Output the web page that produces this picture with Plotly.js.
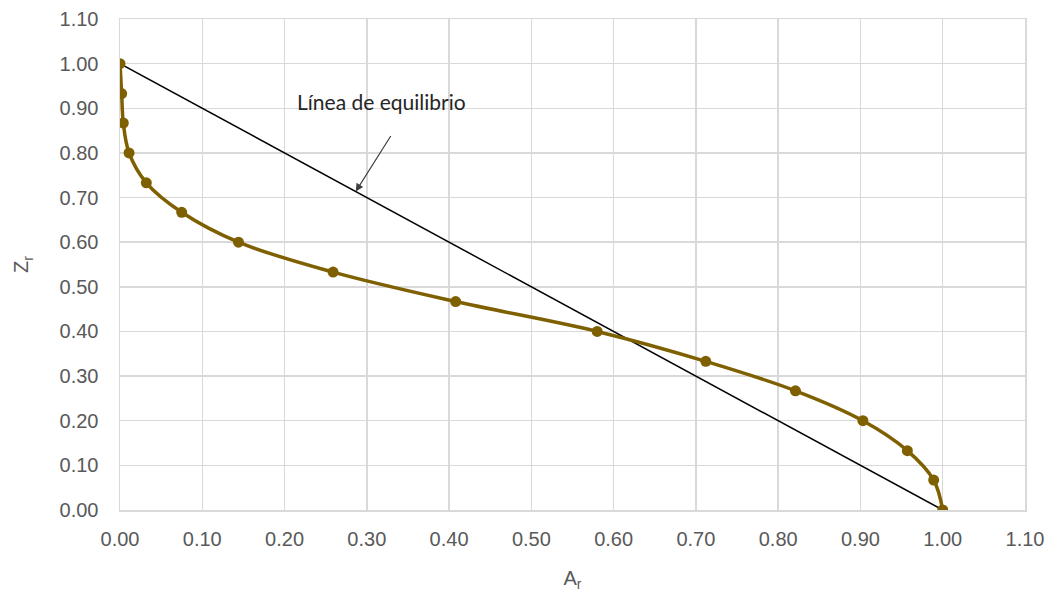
<!DOCTYPE html>
<html>
<head>
<meta charset="utf-8">
<script src="https://cdn.plot.ly/plotly-3.0.1.min.js"></script>
<style>html,body{margin:0;padding:0;background:#fff;}#chart{width:1051px;height:600px;}</style>
</head>
<body>
<div id="chart"></div>
<script>
// Curve data (A_r, Z_r)
const curveA = [0.000, 0.002, 0.004, 0.011, 0.032, 0.075, 0.144, 0.259, 0.408, 0.580, 0.712, 0.821, 0.903, 0.957, 0.989, 1.000];
const curveZ = [1.000, 0.933, 0.867, 0.800, 0.733, 0.667, 0.600, 0.533, 0.467, 0.400, 0.333, 0.267, 0.200, 0.133, 0.067, 0.000];
// Equilibrium line
const eqA = [0, 1];
const eqZ = [1, 0];
const eqLabel = "Línea de equilibrio";
const xTitle = "A<sub>r</sub>";
const yTitle = "Z<sub>r</sub>";

const gridColor = '#d9d9d9';
const tickFont = {family: 'Liberation Sans, Arial, sans-serif', size: 20, color: '#595959'};

const traces = [
  {
    x: eqA, y: eqZ, type: 'scatter', mode: 'lines',
    line: {color: '#000000', width: 1.5}, hoverinfo: 'skip'
  },
  {
    x: curveA, y: curveZ, type: 'scatter', mode: 'lines+markers',
    line: {color: '#7f6000', width: 3.5, shape: 'spline', smoothing: 1},
    marker: {color: '#7f6000', size: 11}
  }
];

const layout = {
  width: 1051, height: 600,
  margin: {l: 120, r: 26, t: 19, b: 90},
  paper_bgcolor: '#ffffff', plot_bgcolor: '#ffffff',
  showlegend: false,
  xaxis: {
    range: [0, 1.1], dtick: 0.1, tick0: 0, tickformat: '.2f',
    showgrid: true, gridcolor: gridColor, gridwidth: 1.5,
    zeroline: false, showline: true, linecolor: gridColor, linewidth: 1.5, mirror: true,
    ticks: 'outside', ticklen: 10, tickcolor: 'rgba(0,0,0,0)',
    tickfont: tickFont,
    title: {text: xTitle, font: tickFont, standoff: 22}
  },
  yaxis: {
    range: [0, 1.1], dtick: 0.1, tick0: 0, tickformat: '.2f',
    showgrid: true, gridcolor: gridColor, gridwidth: 1.5,
    zeroline: false, showline: true, linecolor: gridColor, linewidth: 1.5, mirror: true,
    ticks: 'outside', ticklen: 16, tickcolor: 'rgba(0,0,0,0)',
    tickfont: tickFont,
    title: {text: yTitle, font: tickFont, standoff: 25}
  },
  annotations: [
    {
      x: 0.2865, y: 0.7135, xref: 'x', yref: 'y',
      ax: 36, ay: -57, axref: 'pixel', ayref: 'pixel',
      showarrow: true, arrowhead: 2, arrowsize: 1.3, arrowwidth: 1.2, arrowcolor: '#404040',
      text: ''
    },
    {
      x: 0.3175, y: 0.915, xref: 'x', yref: 'y',
      showarrow: false, text: eqLabel,
      font: {family: 'Lato, Open Sans, sans-serif', size: 21, color: '#262626'}
    }
  ]
};

Plotly.newPlot('chart', traces, layout, {displayModeBar: false, staticPlot: true});
</script>
</body>
</html>
